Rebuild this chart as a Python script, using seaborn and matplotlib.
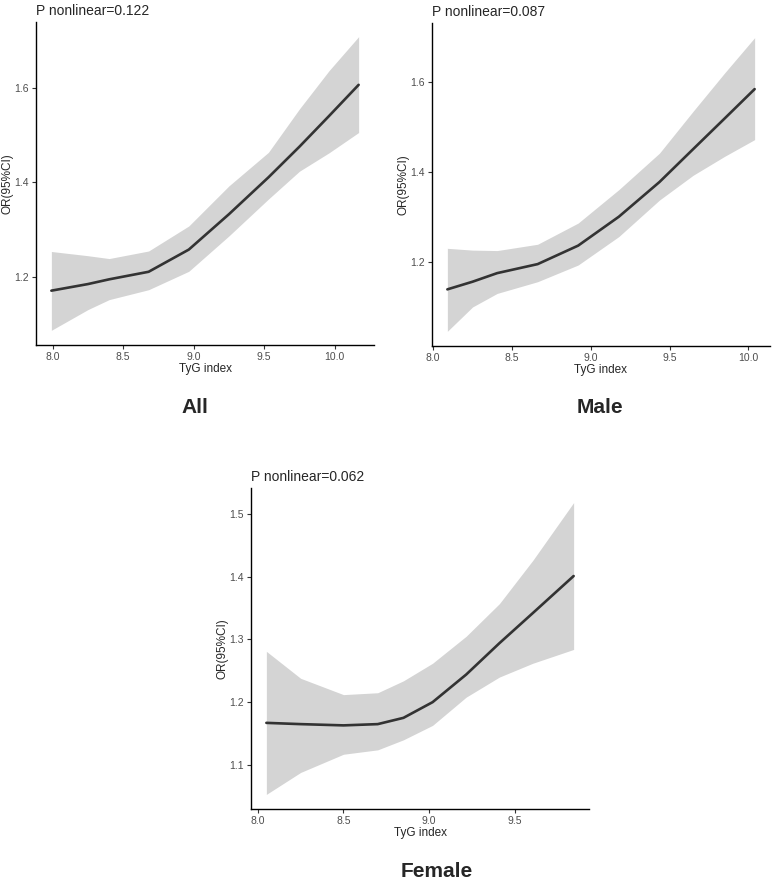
import seaborn as sns
import matplotlib.pyplot as plt
import pandas as pd
import numpy as np

sns.set_style("ticks")
plt.rcParams['font.family'] = ['Liberation Sans', 'DejaVu Sans']

# All
all_x = [7.99, 8.25, 8.4, 8.68, 8.965, 9.25, 9.53, 9.75, 9.96, 10.17]
all_or = [1.170, 1.184, 1.194, 1.210, 1.257, 1.332, 1.410, 1.475, 1.540, 1.606]
all_hi = [1.253, 1.244, 1.238, 1.254, 1.307, 1.392, 1.463, 1.555, 1.636, 1.708]
all_lo = [1.086, 1.130, 1.151, 1.172, 1.211, 1.286, 1.364, 1.423, 1.462, 1.505]

# Male
male_x = [8.09, 8.25, 8.406, 8.663, 8.92, 9.178, 9.436, 9.65, 9.85, 10.04]
male_or = [1.140, 1.157, 1.176, 1.196, 1.237, 1.301, 1.378, 1.451, 1.519, 1.584]
male_hi = [1.231, 1.227, 1.226, 1.240, 1.287, 1.361, 1.442, 1.535, 1.620, 1.698]
male_lo = [1.047, 1.101, 1.131, 1.157, 1.194, 1.257, 1.338, 1.393, 1.435, 1.472]

# Female
fem_x = [8.05, 8.25, 8.5, 8.7, 8.85, 9.02, 9.216, 9.41, 9.605, 9.843]
fem_or = [1.167, 1.165, 1.163, 1.165, 1.175, 1.200, 1.244, 1.294, 1.342, 1.401]
fem_hi = [1.281, 1.238, 1.212, 1.215, 1.234, 1.262, 1.305, 1.357, 1.426, 1.518]
fem_lo = [1.053, 1.088, 1.117, 1.124, 1.140, 1.163, 1.208, 1.240, 1.262, 1.284]

panels = [
    ("All", "P nonlinear=0.122", all_x, all_or, all_lo, all_hi,
     [8.0, 8.5, 9.0, 9.5, 10.0], [1.2, 1.4, 1.6]),
    ("Male", "P nonlinear=0.087", male_x, male_or, male_lo, male_hi,
     [8.0, 8.5, 9.0, 9.5, 10.0], [1.2, 1.4, 1.6]),
    ("Female", "P nonlinear=0.062", fem_x, fem_or, fem_lo, fem_hi,
     [8.0, 8.5, 9.0, 9.5], [1.1, 1.2, 1.3, 1.4, 1.5]),
]

W, H = 774, 881
# axes boxes in pixels: left, top, right, bottom
boxes = [(36, 22, 374, 345), (432, 23, 770, 346), (251, 488, 589, 809)]
# panel name positions (center x, baseline y)
label_pos = [(195, 413), (600, 413), (437, 877)]

fig = plt.figure(figsize=(W / 100, H / 100), dpi=100)

for (name, ptxt, x, y, lo, hi, xt, yt), (l, t, r, b), (lx, ly) in zip(panels, boxes, label_pos):
    ax = fig.add_axes([l / W, 1 - b / H, (r - l) / W, (b - t) / H])
    df = pd.DataFrame({"TyG": x, "OR": y, "lo": lo, "hi": hi})
    ax.fill_between(df["TyG"], df["lo"], df["hi"], color="#d4d4d4", lw=0)
    sns.lineplot(data=df, x="TyG", y="OR", ax=ax, color="#333333", lw=1.9)
    xr = max(x) - min(x)
    yr = max(hi) - min(lo)
    ax.set_xlim(min(x) - 0.05 * xr, max(x) + 0.05 * xr)
    ax.set_ylim(min(lo) - 0.05 * yr, max(hi) + 0.05 * yr)
    ax.set_xticks(xt)
    ax.set_yticks(yt)
    ax.set_xticklabels([f"{v:.1f}" for v in xt])
    ax.set_yticklabels([f"{v:.1f}" for v in yt])
    ax.tick_params(labelsize=7.5, labelcolor="#4d4d4d", color="#333333",
                   length=3, width=0.8, pad=2)
    for s in ["left", "bottom"]:
        ax.spines[s].set_linewidth(1.0)
        ax.spines[s].set_color("black")
    sns.despine(ax=ax)
    ax.set_xlabel("TyG index", fontsize=8.5, labelpad=1)
    ax.set_ylabel("OR(95%CI)", fontsize=8.5, labelpad=0.5)
    ax.set_title(ptxt, loc="left", fontsize=10, pad=5)
    fig.text(lx / W, 1 - ly / H, name, ha="center", va="baseline",
             fontsize=15, fontweight="bold")

fig.savefig("out.png", dpi=100)
